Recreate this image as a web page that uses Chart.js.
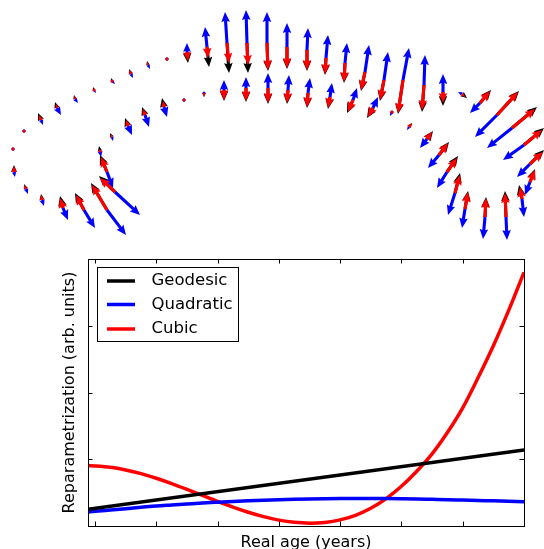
<!DOCTYPE html>
<html>
<head>
<meta charset="utf-8">
<script src="https://cdn.jsdelivr.net/npm/chart.js@4.4.1/dist/chart.umd.min.js"></script>
<style>
  html, body { margin: 0; padding: 0; background: #fff; overflow: hidden; }
  canvas { display: block; }
</style>
</head>
<body>
<canvas id="fieldChart" width="544" height="250"></canvas>
<canvas id="reparamChart" width="544" height="299"></canvas>
<script>
// ---- top panel: tangent vectors along the trajectory ----
const baseX = [107,115,107,84,63,42,26,14,13,24,41,57,75,94,112,131,148,167,187,207,227,247,267,287,307,326,345,365,384,403,424,443,462,480,497,512,524,530,530,522,506,485,465,455,447,439,427,409,392,373,353,330,308,288,268,246,224,204,184,164,145,128,112,100];
const baseY = [172,192,210,210,208,200,189,172,149,131,120,108,99,90,81,74,65,59,52,47,43,43,43,47,50,58,63,72,80,80,85,92,94,103,115,128,145,164,182,199,217,217,209,193,172,155,139,127,112,108,100,97,93,90,88,88,90,93,100,107,115,126,137,151];
const redTipX = [101,100,92,76,60,41,24,14,13,23,39,56,74,93,111,129,147,167,188,208,229,248,268,287,307,325,344,361,380,398,422,443,465,490,518,535,542,543,535,520,505,486,468,460,457,448,432,412,394,368,348,328,307,287,268,246,224,204,184,163,143,126,111,100];
const redTipY = [157,178,185,195,198,195,185,166,148,130,115,104,96,88,79,70,62,58,61,58,63,65,70,68,70,74,82,90,100,113,110,103,97,91,92,109,130,152,170,187,193,198,192,175,158,143,132,123,110,117,112,108,107,103,103,101,100,97,99,101,109,120,134,148];
const blueTipX = [113,140,126,95,68,44,28,15,13,25,43,61,78,96,115,133,150,167,187,205,225,246,267,287,308,328,347,369,388,409,425,443,458,470,475,487,503,517,525,524,507,483,462,448,437,428,420,407,390,378,357,332,310,289,268,246,224,204,185,167,149,132,113,101];
const blueTipY = [188,215,235,228,220,206,194,177,150,132,125,115,103,93,84,78,69,60,43,27,12,10,12,23,28,35,43,45,52,48,55,74,92,113,137,148,160,177,195,217,240,239,228,215,188,168,148,130,116,97,88,83,78,75,73,77,80,90,102,117,127,135,141,157];
const blackTipX = [100,99,91,75,60,41,24,14,13,23,38,55,74,93,111,129,147,167,188,209,229,248,268,287,307,325,344,361,380,398,422,443,467,491,519,537,544,544,535,519,505,486,468,460,458,449,433,412,394,367,347,328,307,287,268,246,224,204,184,162,142,125,110,99];
const blackTipY = [155,176,183,193,196,194,184,165,148,130,113,102,95,87,78,69,61,58,63,67,73,73,71,69,71,75,83,91,101,114,112,106,98,90,91,107,128,150,169,185,191,197,191,173,156,142,131,123,110,118,113,109,108,104,104,102,101,97,99,98,107,118,133,146];

// ---- bottom panel: reparametrization curves ----
const seriesNames = ['Geodesic', 'Quadratic', 'Cubic'];
const seriesColors = ['#000000', '#0000ff', '#ff0000'];
const geodesicAge = [-0.115, 7];
const geodesicValue = [0.25, 1.14];
const curveAge = [-0.115, 0, 0.25, 0.5, 0.75, 1, 1.25, 1.5, 1.75, 2, 2.25, 2.5, 2.75, 3, 3.25, 3.5, 3.75, 4, 4.25, 4.5, 4.75, 5, 5.25, 5.5, 5.75, 6, 6.25, 6.5, 6.75, 7];
const quadraticValue = [0.21, 0.22, 0.24, 0.26, 0.28, 0.30, 0.315, 0.33, 0.345, 0.357, 0.368, 0.378, 0.387, 0.394, 0.40, 0.405, 0.409, 0.412, 0.413, 0.413, 0.412, 0.409, 0.405, 0.40, 0.395, 0.389, 0.383, 0.377, 0.371, 0.365];
const cubicValue = [0.905, 0.90, 0.88, 0.84, 0.785, 0.715, 0.635, 0.548, 0.458, 0.368, 0.283, 0.206, 0.14, 0.088, 0.055, 0.043, 0.054, 0.092, 0.16, 0.265, 0.41, 0.595, 0.82, 1.08, 1.40, 1.77, 2.22, 2.70, 3.23, 3.80];
const xTicks = [0, 1, 2, 3, 4, 5, 6, 7];
const yTicks = [0, 1, 2, 3, 4];

const FONT = 'DejaVu Sans';

// quiver-like arrow, drawn along +x after rotation
function drawArrow(ctx, x0, y0, x1, y1) {
  const dx = x1 - x0, dy = y1 - y0;
  const len = Math.hypot(dx, dy);
  const shaftW = 3.1, headW = 8.6, headL = 10, headAxis = 9;
  if (len < shaftW) {
    ctx.beginPath();
    ctx.arc(x0, y0, 1.5, 0, Math.PI * 2);
    ctx.fill();
    return;
  }
  const s = len < headL ? len / headL : 1;
  const hl = headL * s, ha = headAxis * s, hw = headW * s / 2, sw = shaftW * s / 2;
  ctx.save();
  ctx.translate(x0, y0);
  ctx.rotate(Math.atan2(dy, dx));
  ctx.beginPath();
  ctx.moveTo(0, -sw);
  ctx.lineTo(len - ha, -sw);
  ctx.lineTo(len - hl, -hw);
  ctx.lineTo(len, 0);
  ctx.lineTo(len - hl, hw);
  ctx.lineTo(len - ha, sw);
  ctx.lineTo(0, sw);
  ctx.closePath();
  ctx.fill();
  ctx.restore();
}

const quiverPlugin = {
  id: 'quiver',
  afterDatasetsDraw(chart) {
    const { ctx, scales: { x, y } } = chart;
    const layers = [
      [blackTipX, blackTipY, seriesColors[0]],
      [blueTipX, blueTipY, seriesColors[1]],
      [redTipX, redTipY, seriesColors[2]]
    ];
    ctx.save();
    layers.forEach(([tx, ty, color]) => {
      ctx.fillStyle = color;
      baseX.forEach((bx, i) => {
        drawArrow(ctx,
          x.getPixelForValue(bx), y.getPixelForValue(baseY[i]),
          x.getPixelForValue(tx[i]), y.getPixelForValue(ty[i]));
      });
    });
    ctx.restore();
  }
};

new Chart(document.getElementById('fieldChart'), {
  type: 'scatter',
  data: {
    datasets: [{
      data: baseX.map((bx, i) => ({ x: bx, y: baseY[i] })),
      pointRadius: 0
    }]
  },
  options: {
    responsive: false,
    animation: false,
    layout: { padding: 0 },
    plugins: { legend: { display: false }, tooltip: { enabled: false } },
    scales: {
      x: { type: 'linear', min: 0, max: 544, display: false },
      y: { type: 'linear', min: 0, max: 250, reverse: true, display: false }
    }
  },
  plugins: [quiverPlugin]
});

// frame, inward ticks on all four sides, and the boxed legend
const framePlugin = {
  id: 'frame',
  afterDatasetsDraw(chart) {
    const { ctx, chartArea: a, scales: { x, y } } = chart;
    const tick = 4.5;
    ctx.save();
    ctx.strokeStyle = '#000';
    ctx.lineWidth = 1;
    ctx.strokeRect(a.left + 0.5, a.top + 0.5, a.right - a.left, a.bottom - a.top);
    ctx.beginPath();
    xTicks.forEach(v => {
      const px = Math.round(x.getPixelForValue(v)) + 0.5;
      ctx.moveTo(px, a.bottom); ctx.lineTo(px, a.bottom - tick);
      ctx.moveTo(px, a.top); ctx.lineTo(px, a.top + tick);
    });
    yTicks.forEach(v => {
      const py = Math.round(y.getPixelForValue(v)) + 0.5;
      ctx.moveTo(a.left, py); ctx.lineTo(a.left + tick, py);
      ctx.moveTo(a.right, py); ctx.lineTo(a.right - tick, py);
    });
    ctx.stroke();

    // legend
    const bx = a.left + 9, by = a.top + 8, bw = 141, bh = 74;
    ctx.fillStyle = '#fff';
    ctx.fillRect(bx, by, bw, bh);
    ctx.strokeRect(bx + 0.5, by + 0.5, bw, bh);
    const rows = [22, 45.5, 70];
    ctx.font = '16.5px "' + FONT + '"';
    ctx.textBaseline = 'middle';
    chart.data.datasets.forEach((ds, i) => {
      const ry = a.top + rows[i];
      ctx.strokeStyle = ds.borderColor;
      ctx.lineWidth = 3.5;
      ctx.beginPath();
      ctx.moveTo(a.left + 19, ry);
      ctx.lineTo(a.left + 47, ry);
      ctx.stroke();
      ctx.fillStyle = '#000';
      ctx.fillText(ds.label, a.left + 63.5, ry);
    });
    ctx.restore();
  }
};

const toPoints = (ages, values) => ages.map((a, i) => ({ x: a, y: values[i] }));

new Chart(document.getElementById('reparamChart'), {
  type: 'line',
  data: {
    datasets: [
      { label: seriesNames[0], data: toPoints(geodesicAge, geodesicValue), borderColor: seriesColors[0] },
      { label: seriesNames[1], data: toPoints(curveAge, quadraticValue), borderColor: seriesColors[1] },
      { label: seriesNames[2], data: toPoints(curveAge, cubicValue), borderColor: seriesColors[2] }
    ]
  },
  options: {
    responsive: false,
    animation: false,
    layout: { padding: { top: 9, right: 20, left: 0, bottom: 0 } },
    elements: {
      point: { radius: 0 },
      line: { borderWidth: 3.5, cubicInterpolationMode: 'monotone', fill: false }
    },
    plugins: { legend: { display: false }, tooltip: { enabled: false } },
    scales: {
      x: {
        type: 'linear', min: -0.115, max: 7,
        grid: { display: false }, border: { display: false }, ticks: { display: false },
        title: {
          display: true, text: 'Real age (years)', color: '#000',
          font: { family: FONT, size: 16, lineHeight: 0.75 }, padding: { top: 0, bottom: 0 }
        },
        afterFit: s => { s.height = 23; }
      },
      y: {
        type: 'linear', min: 0, max: 4,
        grid: { display: false }, border: { display: false }, ticks: { display: false },
        title: {
          display: true, text: 'Reparametrization (arb. units)', color: '#000',
          font: { family: FONT, size: 16, lineHeight: 1.2 }, padding: { top: 60.4, bottom: 0 }
        },
        afterFit: s => { s.width = 88; }
      }
    }
  },
  plugins: [framePlugin]
});
</script>
</body>
</html>
